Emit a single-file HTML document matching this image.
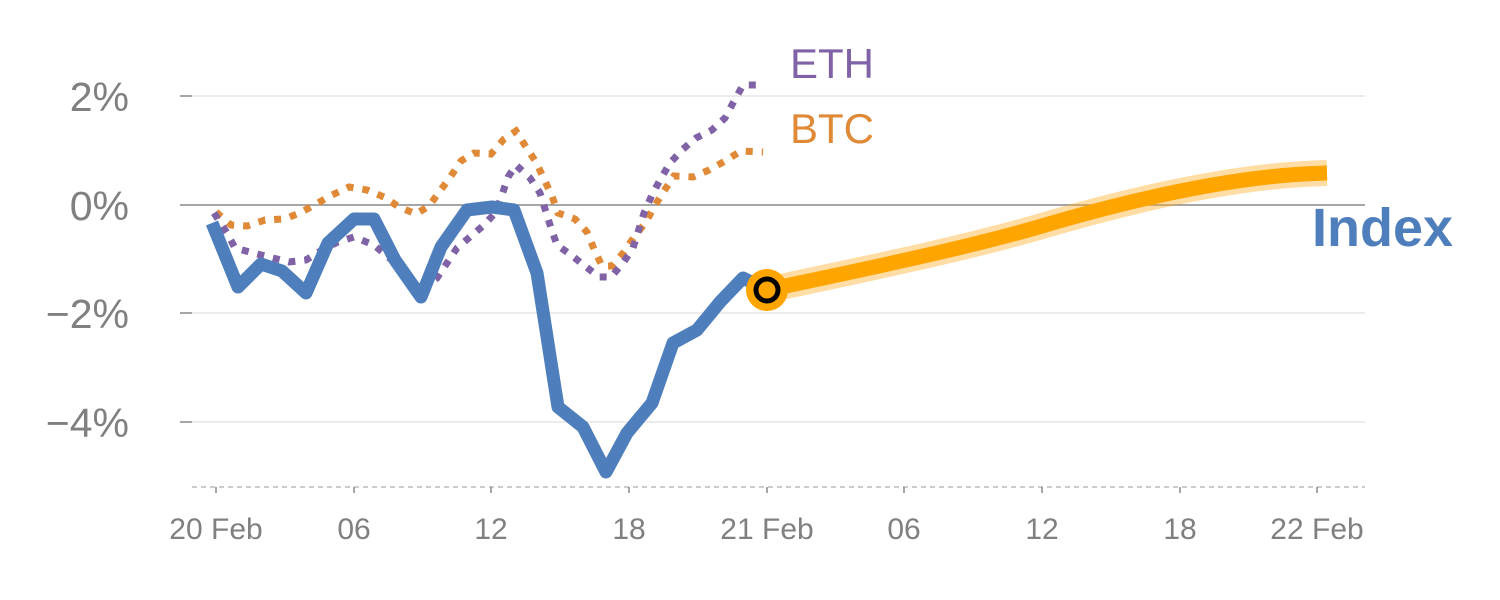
<!DOCTYPE html>
<html><head><style>body{margin:0;background:#fff}svg{display:block}</style></head><body>
<svg width="1500" height="600" xmlns="http://www.w3.org/2000/svg" font-family="Liberation Sans, sans-serif">
<g stroke="#e6e6e6" stroke-width="1.5">
<line x1="192" y1="96" x2="1365" y2="96"/><line x1="192" y1="313" x2="1365" y2="313"/><line x1="192" y1="422" x2="1365" y2="422"/>
</g>
<line x1="192" y1="205" x2="1365" y2="205" stroke="#888" stroke-width="1.5"/>
<line x1="192" y1="487" x2="1365" y2="487" stroke="#ccc" stroke-width="2" stroke-dasharray="5 4"/>
<g stroke="#888" stroke-width="1.5">
<line x1="180" y1="96" x2="192" y2="96"/><line x1="180" y1="205" x2="192" y2="205"/><line x1="180" y1="313" x2="192" y2="313"/><line x1="180" y1="422" x2="192" y2="422"/>
<line x1="216" y1="487" x2="216" y2="493"/><line x1="354" y1="487" x2="354" y2="493"/><line x1="491" y1="487" x2="491" y2="493"/><line x1="629" y1="487" x2="629" y2="493"/><line x1="767" y1="487" x2="767" y2="493"/><line x1="904" y1="487" x2="904" y2="493"/><line x1="1042" y1="487" x2="1042" y2="493"/><line x1="1180" y1="487" x2="1180" y2="493"/><line x1="1317" y1="487" x2="1317" y2="493"/>
</g>
<g fill="#808080" font-size="41" text-anchor="end">
<text x="129" y="111">2%</text><text x="129" y="220">0%</text><text x="129" y="328">−2%</text><text x="129" y="437">−4%</text>
</g>
<g fill="#808080" font-size="30" text-anchor="middle">
<text x="216" y="539">20 Feb</text><text x="354" y="539">06</text><text x="491" y="539">12</text><text x="629" y="539">18</text><text x="767" y="539">21 Feb</text><text x="904" y="539">06</text><text x="1042" y="539">12</text><text x="1180" y="539">18</text><text x="1317" y="539">22 Feb</text>
</g>
<polyline fill="none" stroke="#e08a38" stroke-width="7" stroke-dasharray="7 9" points="216,212 231,225 247,226 265,220 284,219 300,213 316,204 332,195 349,187 367,190 384,197 399,207 416,214 429,206 440,191 451,176 461,161 474,153 491,154 504,139 516,131 526,147 536,162 544,179 552,196 558,213 575,219 587,232 594,249 602,266 612,266 624,252 634,237 646,222 654,207 664,191 674,176 693,177 709,170 725,161 741,151 763,152"/>
<polyline fill="none" stroke="#8062a6" stroke-width="7" stroke-dasharray="7 9" points="214,213 227,233 235,248 253,253 289,262 306,260 322,250 338,242 354,237 374,245 401,268 421,290 437,278 457,248 484,225 496,212 502,195 508,177 516,165 530,178 540,193 546,212 551,228 557,245 571,255 599,277 611,277 623,263 633,248 644,213 652,195 660,180 670,163 682,150 696,138 712,130 725,118 733,103 743,85 763,85"/>
<polyline fill="none" stroke="#4e7fbc" stroke-width="13" stroke-linejoin="round" points="212,223 238,287 261,264 282,271 306,293 328,243 354,219 374,219 395,260 421,297 441,247 467,210 492,207 514,210 537,273 558,407 583,427 606,472 627,433 652,403 673,343 697,330 720,302 743,278 767,290"/>
<path d="M767,290 C850,272 960,250 1042,226 C1120,203 1230,175 1327,173" fill="none" stroke="rgba(255,170,30,0.4)" stroke-width="26"/>
<path d="M767,290 C850,272 960,250 1042,226 C1120,203 1230,175 1327,173" fill="none" stroke="#ffa500" stroke-width="15"/>
<circle cx="767" cy="290" r="21" fill="#ffa500"/>
<circle cx="767" cy="290" r="11" fill="#ffa500" stroke="#000" stroke-width="5"/>
<text x="790" y="78" font-size="42" fill="#8062a6">ETH</text>
<text x="790" y="143" font-size="42" fill="#e08a38">BTC</text>
<text x="1312" y="246" font-size="54" font-weight="bold" fill="#4e7fbc">Index</text>
</svg>
</body></html>
